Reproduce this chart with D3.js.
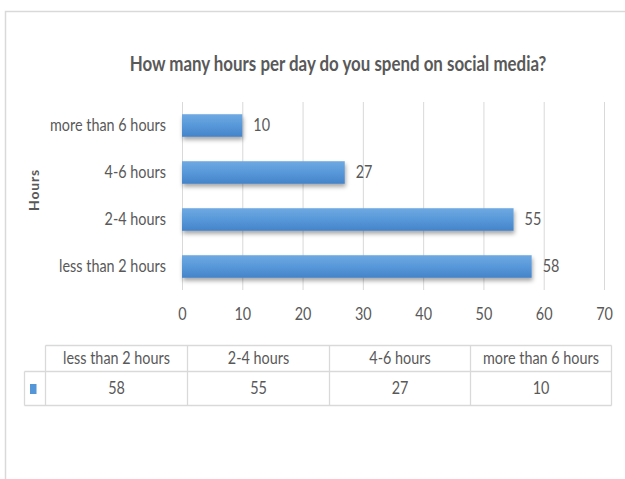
<!DOCTYPE html>
<html>
<head>
<meta charset="utf-8">
<script src="https://cdn.jsdelivr.net/npm/d3@7"></script>
<style>
  html, body { margin: 0; padding: 0; background: #fff; }
  svg { display: block; }
  text { font-family: Lato, "Open Sans", sans-serif; fill: #595959; }
</style>
</head>
<body>
<script>
// Survey: daily social media use
const categories = ["less than 2 hours", "2-4 hours", "4-6 hours", "more than 6 hours"];
const values = [58, 55, 27, 10];
const xTicks = [0, 10, 20, 30, 40, 50, 60, 70];
const title = "How many hours per day do you spend on social media?";
const axisTitle = "Hours";

const W = 625, H = 479;
const svg = d3.select("body").append("svg").attr("width", W).attr("height", H);

// horizontal squeeze factor so a sample string reaches a given width
function squeeze(sample, size, weight, width) {
  const probe = svg.append("text").attr("font-size", size).attr("font-weight", weight).text(sample);
  const w = probe.node().getComputedTextLength();
  probe.remove();
  return width / w;
}
const LABEL = 17;
const sx = squeeze("more than 6 hours", LABEL, "normal", 116);
const place = (px, py) => `translate(${px},${py}) scale(${sx},1)`;

// gradient + soft shadow for the bars
const defs = svg.append("defs");
const grad = defs.append("linearGradient").attr("id", "barGrad")
  .attr("x1", 0).attr("y1", 0).attr("x2", 0).attr("y2", 1);
grad.append("stop").attr("offset", "0%").attr("stop-color", "#6fa9e2");
grad.append("stop").attr("offset", "55%").attr("stop-color", "#5596d8");
grad.append("stop").attr("offset", "100%").attr("stop-color", "#4583c8");
const shadow = defs.append("filter").attr("id", "barShadow")
  .attr("x", "-10%").attr("y", "-30%").attr("width", "130%").attr("height", "190%");
shadow.append("feDropShadow").attr("dx", 1).attr("dy", 3).attr("stdDeviation", 2)
  .attr("flood-color", "#000").attr("flood-opacity", 0.35);

// chart frame (left and top edges visible)
svg.append("path").attr("d", `M5.5,${H}V11.5H${W}`)
  .attr("fill", "none").attr("stroke", "#d9d9d9").attr("stroke-width", 1.5);

// title
const tsx = squeeze(title, 20, "bold", 417);
svg.append("text").attr("transform", `translate(338,71) scale(${tsx},1)`)
  .attr("text-anchor", "middle").attr("font-weight", "bold")
  .attr("font-size", 20).text(title);

const x = d3.scaleLinear().domain([0, 70]).range([182, 604]);
const y = d3.scaleBand().domain(categories.slice().reverse()).range([102, 290]).paddingInner(0.52).paddingOuter(0.26);

// vertical gridlines
svg.append("g").selectAll("line").data(xTicks).join("line")
  .attr("x1", d => x(d) + 0.5).attr("x2", d => x(d) + 0.5)
  .attr("y1", 102).attr("y2", 290)
  .attr("stroke", "#d9d9d9").attr("stroke-width", 1);

// x axis labels
const xAxis = d3.axisBottom(x).tickValues(xTicks).tickSize(0).tickPadding(0);
const gx = svg.append("g").attr("transform", "translate(0,308)").call(xAxis);
gx.select(".domain").remove();
gx.selectAll("text").attr("font-size", LABEL).attr("dy", "0.72em")
  .attr("transform", `scale(${sx},1)`)
  .style("font-family", null).attr("fill", "#595959");

// y axis labels
const yAxis = d3.axisLeft(y).tickSize(0).tickPadding(0);
const gy = svg.append("g").attr("transform", "translate(166,0)").call(yAxis);
gy.select(".domain").remove();
gy.selectAll("text").attr("font-size", LABEL).attr("transform", `scale(${sx},1)`)
  .style("font-family", null).attr("fill", "#595959");

// axis title
svg.append("text").attr("transform", "translate(39,190) rotate(-90)")
  .attr("text-anchor", "middle").attr("font-weight", "bold").attr("font-size", 14)
  .attr("letter-spacing", 0.8).text(axisTitle);

// bars
svg.append("g").selectAll("rect").data(categories).join("rect")
  .attr("x", x(0)).attr("y", d => y(d))
  .attr("width", (d, i) => x(values[i]) - x(0)).attr("height", y.bandwidth())
  .attr("fill", "url(#barGrad)").attr("filter", "url(#barShadow)");

// value labels
svg.append("g").selectAll("text").data(categories).join("text")
  .attr("transform", (d, i) => place(x(values[i]) + 11, y(d) + y.bandwidth() / 2))
  .attr("dy", "0.35em").attr("font-size", LABEL).text((d, i) => values[i]);

// data table below the chart
const colX = [45.5, 187.5, 329.5, 470.5, 611.5];
const rowY = [345.5, 371.5, 405.5];
const tbl = svg.append("g").attr("stroke", "#d9d9d9").attr("stroke-width", 1.3).attr("fill", "none");
tbl.append("line").attr("x1", colX[0]).attr("x2", colX[4]).attr("y1", rowY[0]).attr("y2", rowY[0]);
tbl.append("line").attr("x1", 24.5).attr("x2", colX[4]).attr("y1", rowY[1]).attr("y2", rowY[1]);
tbl.append("line").attr("x1", 24.5).attr("x2", colX[4]).attr("y1", rowY[2]).attr("y2", rowY[2]);
tbl.append("line").attr("x1", 24.5).attr("x2", 24.5).attr("y1", rowY[1]).attr("y2", rowY[2]);
tbl.selectAll("line.col").data(colX).join("line").attr("class", "col")
  .attr("x1", d => d).attr("x2", d => d).attr("y1", rowY[0]).attr("y2", rowY[2]);

// legend key
svg.append("rect").attr("x", 30).attr("y", 384).attr("width", 6.5).attr("height", 10)
  .attr("fill", "#5596d8");

const cellCenter = i => (colX[i] + colX[i + 1]) / 2;
svg.append("g").selectAll("text").data(categories).join("text")
  .attr("transform", (d, i) => place(cellCenter(i), (rowY[0] + rowY[1]) / 2))
  .attr("dy", "0.35em").attr("text-anchor", "middle").attr("font-size", LABEL).text(d => d);
svg.append("g").selectAll("text").data(values).join("text")
  .attr("transform", (d, i) => place(cellCenter(i), (rowY[1] + rowY[2]) / 2))
  .attr("dy", "0.35em").attr("text-anchor", "middle").attr("font-size", LABEL).text(d => d);
</script>
</body>
</html>
